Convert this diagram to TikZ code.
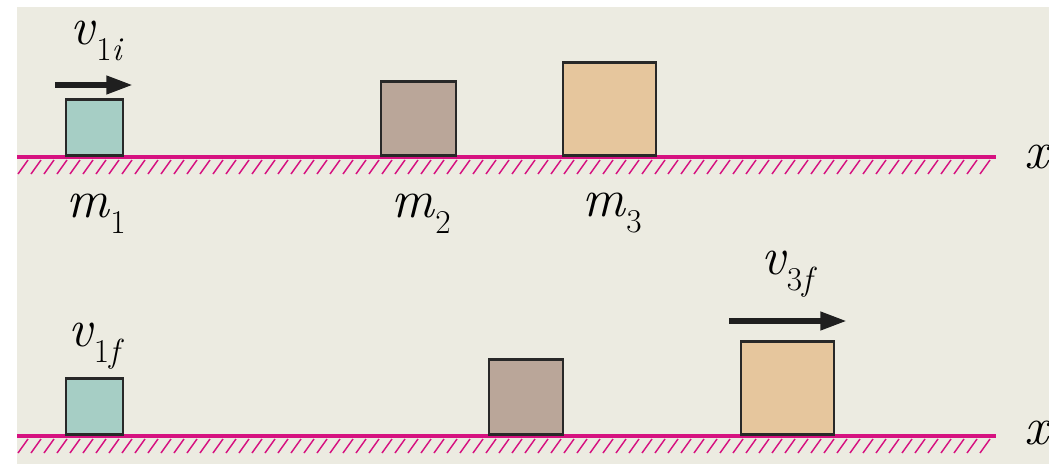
\documentclass[tikz,border=0pt]{standalone}
\usetikzlibrary{arrows.meta}
\definecolor{bgpaper}{RGB}{236,235,225}
\definecolor{floorpink}{RGB}{214,18,128}
\definecolor{massone}{RGB}{166,206,197}
\definecolor{masstwo}{RGB}{186,166,153}
\definecolor{massthree}{RGB}{230,198,157}
\definecolor{blockedge}{RGB}{40,40,40}
\newcommand{\qlab}[2]{\textit{#1}\raisebox{-12pt}{\fontsize{25}{25}\selectfont #2}}
\tikzset{
  mass/.style n args={3}{draw=blockedge,fill=#1,line width=2.2pt,anchor=south,inner sep=0pt,
    minimum width=#2*0.75pt,minimum height=#3*0.75pt},
  lab/.style={font=\fontsize{40}{40}\selectfont,inner sep=0pt},
  floor/.style={draw=floorpink,line width=2.4pt},
  hatch/.style={draw=floorpink,line width=1.1pt},
  velarrow/.style={line width=4.5pt,draw=black!88,-{Triangle[length=20pt,width=13pt]}},
}
\begin{document}
\begin{tikzpicture}[x=0.75pt,y=-0.75pt]
  \useasboundingbox (0,0) rectangle (1049,464);
  \fill[bgpaper] (17,7) rectangle (1049,464);
  % before the collision
  \draw[floor] (17,157) -- (996,157);
  \foreach \hx in {28,41,...,995} \draw[hatch] (\hx,160) -- ++(-10,14);
  \node[mass={massone}{57}{56}] (topone) at (94.5,157) {};
  \node[mass={masstwo}{75}{74}] (toptwo) at (418.5,157) {};
  \node[mass={massthree}{93}{93}] (topthree) at (609.5,157) {};
  \node[lab] (mone) at (96,214) {\qlab{m}{1}};
  \node[lab] (mtwo) at (421,214) {\qlab{m}{2}};
  \node[lab] (mthree) at (612,213) {\qlab{m}{3}};
  \node[lab] (xtop) at (1038,157) {\textit{x}};
  \coordinate (vonei start) at (55,85);
  \coordinate (vonei end) at (133,85);
  \draw[velarrow] (vonei start) -- (vonei end);
  \node[lab] (vonei) at (97,41) {\qlab{v}{1\textit{i}}};
  % after the collision
  \draw[floor] (17,436) -- (996,436);
  \foreach \hx in {28,41,...,995} \draw[hatch] (\hx,439) -- ++(-10,14);
  \node[mass={massone}{57}{56}] (botone) at (94.5,436) {};
  \node[mass={masstwo}{74}{75}] (bottwo) at (526,436) {};
  \node[mass={massthree}{93}{93}] (botthree) at (787.5,436) {};
  \node[lab] (xbot) at (1038,433) {\textit{x}};
  \coordinate (vthreef start) at (729,321);
  \coordinate (vthreef end) at (847,321);
  \draw[velarrow] (vthreef start) -- (vthreef end);
  \node[lab] (vonef) at (96,346) {\qlab{v}{1\textit{f}}};
  \node[lab] (vthreef) at (789,274) {\qlab{v}{3\textit{f}}};
\end{tikzpicture}
\end{document}
